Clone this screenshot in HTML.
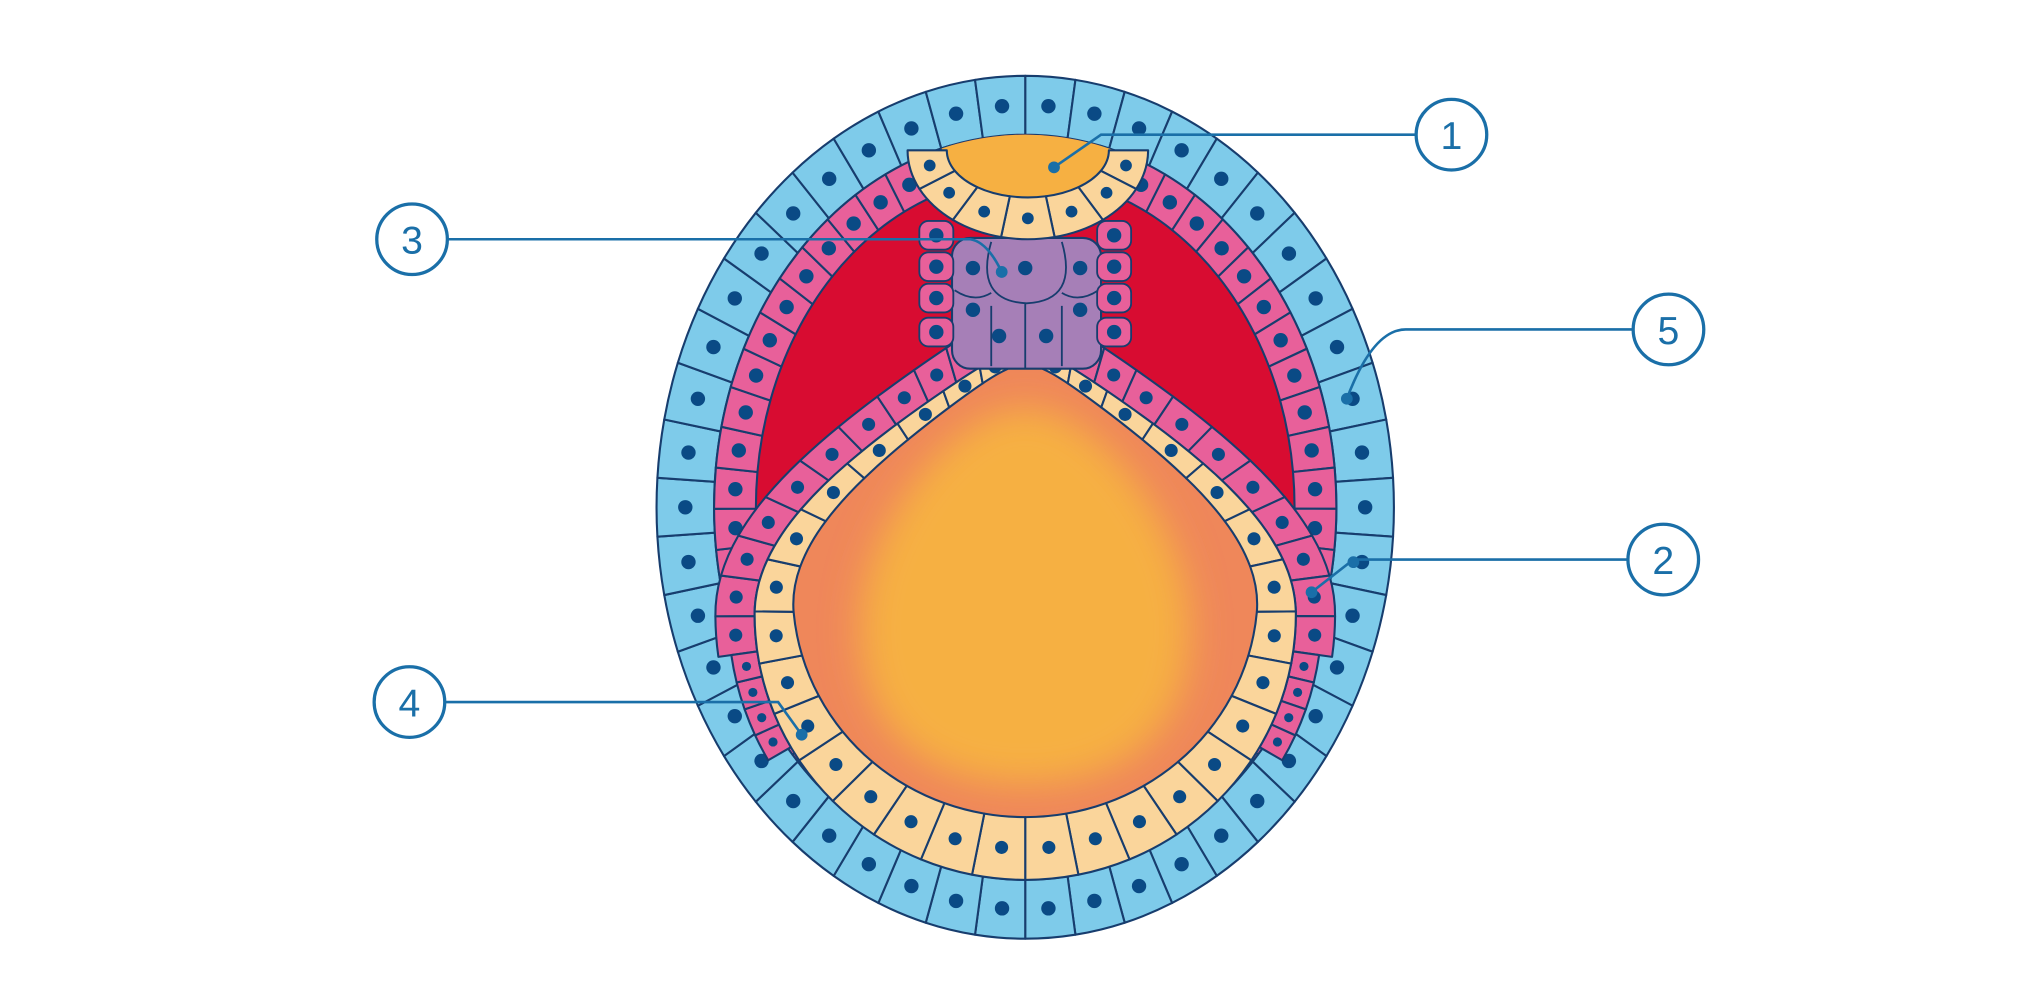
<!DOCTYPE html>
<html><head><meta charset="utf-8"><style>
html,body{margin:0;padding:0;background:#fff;width:2040px;height:1008px;overflow:hidden}
svg{display:block}
</style></head><body>
<svg id="s" width="2040" height="1008" viewBox="0 0 1560 771" xmlns="http://www.w3.org/2000/svg">
<defs><filter id="bl" x="-30%" y="-30%" width="160%" height="160%"><feGaussianBlur stdDeviation="14"/></filter>
<clipPath id="ic"><ellipse cx="784" cy="388" rx="238" ry="285"/></clipPath></defs>
<g id="g"></g>
<g fill="none" stroke="#1a6fa8" stroke-width="2">
<path d="M1083 103 H842 L806 128"/>
<path d="M342 183 H742 Q755 185 766 208"/>
<path d="M1249 252 H1075 Q1050 252 1030 305"/>
<path d="M1245 428 H1035 L1003 453"/>
<path d="M340 537 H595 L613 562"/>
</g>
<g fill="#1a6fa8"><circle cx="806" cy="128" r="4.5"/><circle cx="766" cy="208" r="4.5"/><circle cx="1030" cy="305" r="4.5"/><circle cx="1035" cy="430" r="4.5"/><circle cx="1003" cy="453" r="4.5"/><circle cx="613" cy="562" r="4.5"/></g>
<g fill="#fff" stroke="#1a6fa8" stroke-width="2.5">
<circle cx="1110" cy="103" r="27"/><circle cx="315" cy="183" r="27"/><circle cx="1276" cy="252" r="27"/><circle cx="1272" cy="428" r="27"/><circle cx="313" cy="537" r="27"/>
</g>
<g fill="#1a6fa8" font-family="Liberation Sans, sans-serif" font-size="30" text-anchor="middle">
<text x="1110" y="114">1</text><text x="315" y="194">3</text><text x="1276" y="263">5</text><text x="1272" y="439">2</text><text x="313" y="548">4</text>
</g>
</svg>
<script>
const NS="http://www.w3.org/2000/svg",G=document.getElementById('g');
const ST="#173d6e",NU="#0a4a85";
function el(t,a){const e=document.createElementNS(NS,t);for(const k in a)e.setAttribute(k,a[k]);G.appendChild(e);return e;}
const R=Math.PI/180;
function ell(cx,cy,rx,ry){return t=>[cx+rx*Math.cos(t),cy+ry*Math.sin(t)];}
function qp(p){return p[0]+','+p[1];}
function ring2(fo,fi,a0,a1,n,fill,nr){
 for(let i=0;i<n;i++){
  const t0=(a0+(a1-a0)*i/n)*R,t1=(a0+(a1-a0)*(i+1)/n)*R,tm=(t0+t1)/2;
  const o0=fo(t0),om=fo(tm),o1=fo(t1),i1=fi(t1),im=fi(tm),i0=fi(t0);
  const co=[2*om[0]-(o0[0]+o1[0])/2,2*om[1]-(o0[1]+o1[1])/2];
  const ci=[2*im[0]-(i0[0]+i1[0])/2,2*im[1]-(i0[1]+i1[1])/2];
  el('path',{d:`M${qp(o0)} Q${qp(co)} ${qp(o1)} L${qp(i1)} Q${qp(ci)} ${qp(i0)} Z`,fill:fill,stroke:ST,'stroke-width':1.6,'stroke-linejoin':'round'});
  if(nr>0)el('circle',{cx:(om[0]+im[0])/2,cy:(om[1]+im[1])/2,r:nr,fill:NU});
 }
}
const cx=784,cy=388;
ring2(ell(cx,cy,282,330),ell(cx,cy,238,285),-90,270,46,"#7ecbea",5.5);
el('ellipse',{cx:cx,cy:cy,rx:238,ry:285,fill:"#d80c31"});
ring2(ell(cx,cy,238,285),ell(cx,cy,206,253),-76,32,17,"#e8609a",5.5);
ring2(ell(cx,cy,238,285),ell(cx,cy,206,253),148,256,17,"#e8609a",5.5);
ring2(ell(cx,cy,238,285),ell(cx,cy,214,261),32,48,5,"#e8609a",3.5);
ring2(ell(cx,cy,238,285),ell(cx,cy,214,261),132,148,5,"#e8609a",3.5);
const ycx=784,ycy=470,yry=203,yrx=207;
function ys(off){return t=>{const s=Math.sin(t),c=Math.cos(t);const tp=s<0?1-0.62*s*s:1;const o=typeof off==='function'?off(t):off;return [ycx+(yrx-o)*c*tp,ycy+(yry-o)*s];};}
const thick=t=>30+18*Math.sin(t);
ring2(ys(-30),ys(0),-84,8,12,"#e8609a",5);
ring2(ys(-30),ys(0),172,264,12,"#e8609a",5);
ring2(ys(-20),ys(0),8,30,4,"#e8609a",3.5);
ring2(ys(-20),ys(0),150,172,4,"#e8609a",3.5);
let d='';for(let a=0;a<=360;a+=4){const p=ys(thick)(a*R);d+=(a?'L':'M')+qp(p);}
el('path',{d:d+'Z',fill:"#ef875a"});
el('path',{d:"M784 312 C840 312 905 400 910 470 C915 560 860 600 784 600 C708 600 653 560 658 470 C663 400 728 312 784 312Z",fill:"#f6b042",filter:"url(#bl)"});
ring2(ys(0),ys(thick),-80,260,30,"#fad59b",5);
el('rect',{x:728,y:182,width:114,height:100,rx:14,fill:"#a67fb7",stroke:ST,'stroke-width':1.6});
[[744,205],[784,205],[826,205],[744,237],[826,237],[764,257],[800,257]].forEach(p=>el('circle',{cx:p[0],cy:p[1],r:5.5,fill:NU}));
el('path',{d:"M758 185 Q745 230 785 232 Q825 230 812 185 M758 234 V280 M784 232 V282 M812 234 V280 M730 222 Q745 232 758 224 M840 222 Q825 232 812 224",fill:"none",stroke:ST,'stroke-width':1.4});
[[716,180],[716,204],[716,228],[716,254],[852,180],[852,204],[852,228],[852,254]].forEach(p=>{el('rect',{x:p[0]-13,y:p[1]-11,width:26,height:22,rx:7,fill:"#e8609a",stroke:ST,'stroke-width':1.4});el('circle',{cx:p[0],cy:p[1],r:5.5,fill:NU});});
el('ellipse',{cx:786,cy:112,rx:66,ry:42,fill:"#f6b042",'clip-path':"url(#ic)"});
ring2(ell(786,115,92,68),ell(786,115,62,36),0,180,7,"#fad59b",4.5);
const s=document.getElementById('s');[...s.children].slice(2).forEach(c=>s.appendChild(c));
</script>
</body></html>
